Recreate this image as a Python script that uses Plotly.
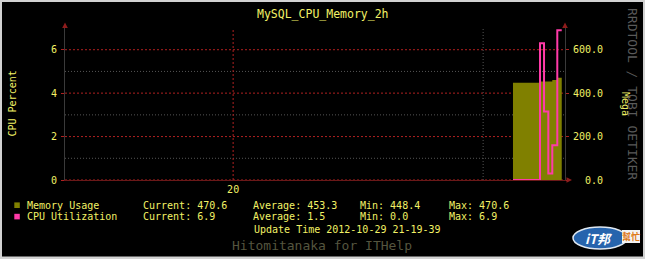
import plotly.graph_objects as go

# ---------------- data ----------------
title_text = "MySQL_CPU_Memory_2h"
x_range = ["2012-10-29 19:19:39", "2012-10-29 21:19:39"]
x_major_ticks = ["2012-10-29 20:00:00"]
x_major_labels = ["20"]
x_minor_ticks = ["2012-10-29 21:00:00"]

# interval start times (step data) and end of last interval
sample_times = ["2012-10-29 21:07:10", "2012-10-29 21:08:05", "2012-10-29 21:09:00",
                "2012-10-29 21:10:00", "2012-10-29 21:11:00", "2012-10-29 21:12:00",
                "2012-10-29 21:12:50", "2012-10-29 21:13:39", "2012-10-29 21:14:37",
                "2012-10-29 21:15:39", "2012-10-29 21:16:36", "2012-10-29 21:17:48"]
last_time = "2012-10-29 21:18:52"
memory_mega = [448.4, 448.4, 448.4, 448.4, 448.4, 448.4, 448.4, 454.0, 454.0, 454.0, 460.0, 470.6]
cpu_percent = [0.0, 0.0, 0.0, 0.0, 0.0, 0.0, 0.0, 6.3, 3.15, 0.3, 1.6, 6.9]

left_ticks = [0, 2, 4, 6]
right_ticks = [0, 200, 400, 600]
right_minor_ticks = [100, 300, 500]

legend_names = ["Memory Usage", "CPU Utilization"]
mem_stats = ["470.6", "453.3", "448.4", "470.6"]
cpu_stats = ["6.9", "1.5", "0.0", "6.9"]
stat_labels = ["Current:", "Average:", "Min:", "Max:"]
update_text = "Update Time 2012-10-29 21-19-39"
footer_text = "Hitomitanaka for ITHelp"
watermark = "RRDTOOL / TOBI OETIKER"

# ---------------- style ----------------
W, H = 645, 259
L, R, T, B = 65, 80, 28, 79
PW, PH = W - L - R, H - T - B
FONT = "DejaVu Sans Mono"
YEL = "#F2F266"
MEM_C = "#808000"
CPU_C = "#FF3AA8"
MAJ = "#B02020"
MIN = "#555555"
DOT_MAJ = "2px,2px"
DOT_MIN = "1px,2px"


def px(x):
    return (x - L) / PW


def py(y):
    return (H - B - y) / PH


fig = go.Figure()

fig.add_trace(go.Scatter(
    x=sample_times + [last_time], y=memory_mega + [memory_mega[-1]],
    mode="lines", line=dict(shape="hv", width=0, color=MEM_C),
    fill="tozeroy", fillcolor=MEM_C, yaxis="y", hoverinfo="skip"))

fig.add_trace(go.Scatter(
    x=sample_times + [last_time], y=cpu_percent + [cpu_percent[-1]],
    mode="lines", line=dict(shape="hv", width=2, color=CPU_C),
    yaxis="y2", hoverinfo="skip"))

fig.update_layout(
    width=W, height=H,
    margin=dict(l=L, r=R, t=T, b=B, pad=0),
    paper_bgcolor="#000000", plot_bgcolor="#000000",
    showlegend=False,
    font=dict(family=FONT, size=10, color=YEL),
    xaxis=dict(
        type="date", range=x_range,
        tickmode="array", tickvals=x_major_ticks, ticktext=x_major_labels,
        showgrid=False,
        showline=True, linecolor="#6a1818", linewidth=1,
        zeroline=False, ticks="", tickfont=dict(family=FONT, size=10, color=YEL),
    ),
    yaxis=dict(
        side="right", range=[0, 700],
        tickmode="array", tickvals=right_ticks, showticklabels=False,
        showgrid=False,
        showline=True, linecolor="#3a3a3a", linewidth=1,
        zeroline=False, ticks="outside", ticklen=3, tickcolor=MAJ,
    ),
    yaxis2=dict(
        side="left", overlaying="y", range=[0, 7],
        tickmode="array", tickvals=left_ticks, ticktext=[str(v) for v in left_ticks],
        showgrid=False, showline=True, linecolor="#3a3a3a", linewidth=1,
        zeroline=False, ticks="outside", ticklen=3, tickcolor=MAJ,
        ticklabelstandoff=2,
        tickfont=dict(family=FONT, size=10, color=YEL),
    ),
)

shapes = []
# grid lines, positioned on the axes' own scales
for v in right_minor_ticks:
    shapes.append(dict(type="line", xref="x domain", yref="y", x0=0, x1=1, y0=v, y1=v,
                       layer="below", line=dict(color=MIN, width=1, dash=DOT_MIN)))
for v in right_ticks:
    shapes.append(dict(type="line", xref="x domain", yref="y", x0=0, x1=1, y0=v, y1=v,
                       layer="below", line=dict(color=MAJ, width=1, dash=DOT_MAJ)))
for t in x_minor_ticks:
    shapes.append(dict(type="line", xref="x", yref="y domain", x0=t, x1=t, y0=0, y1=1,
                       layer="below", line=dict(color=MIN, width=1, dash=DOT_MIN)))
for t in x_major_ticks:
    shapes.append(dict(type="line", xref="x", yref="y domain", x0=t, x1=t, y0=0, y1=1,
                       layer="below", line=dict(color=MAJ, width=1, dash=DOT_MAJ)))

# axis arrows
ARW = "#8E1C1C"
for ax in (65, 565):
    shapes.append(dict(type="path", xref="paper", yref="paper", layer="above",
                       path=f"M {px(ax-2.8)},{py(28)} L {px(ax)},{py(22.5)} L {px(ax+2.8)},{py(28)} Z",
                       fillcolor=ARW, line=dict(width=0)))
shapes.append(dict(type="path", xref="paper", yref="paper", layer="above",
                   path=f"M {px(566.5)},{py(177.2)} L {px(572)},{py(180)} L {px(566.5)},{py(182.8)} Z",
                   fillcolor=ARW, line=dict(width=0)))
# legend squares
for yc, col in ((205.2, MEM_C), (216.6, CPU_C)):
    shapes.append(dict(type="rect", xref="paper", yref="paper", layer="above",
                       x0=px(14.3), x1=px(19.8), y0=py(yc - 2.8), y1=py(yc + 2.8),
                       fillcolor=col, line=dict(width=0)))
# logo
shapes.append(dict(type="circle", xref="paper", yref="paper", layer="above",
                   x0=px(573), x1=px(627), y0=py(249), y1=py(227),
                   fillcolor="#2664ad", line=dict(color="#dfe8f2", width=1.5)))
# outer gray border
BC = "#D2D2D2"
for (x0, x1, y0, y1) in ((0, 645, 0, 2), (0, 645, 256.5, 259), (0, 2, 0, 259), (643, 645, 0, 259)):
    shapes.append(dict(type="rect", xref="paper", yref="paper", layer="above",
                       x0=px(x0), x1=px(x1), y0=py(y0), y1=py(y1),
                       fillcolor=BC, line=dict(width=0)))

fig.update_layout(shapes=shapes)

ann = []


def text(x, y, s, size=10, color=YEL, anchor="left", angle=0):
    ann.append(dict(x=px(x), y=py(y), xref="paper", yref="paper", text=s,
                    showarrow=False, xanchor=anchor, yanchor="middle", textangle=angle,
                    borderpad=0, borderwidth=0,
                    font=dict(family=FONT, size=size, color=color)))


# right axis tick labels, placed on the memory axis scale
for v in right_ticks:
    ann.append(dict(x=px(602.5), y=v, xref="paper", yref="y", text=f"{v:.1f}",
                    showarrow=False, xanchor="right", yanchor="middle",
                    borderpad=0, borderwidth=0,
                    font=dict(family=FONT, size=10, color=YEL)))

text(322.5, 14, title_text, size=11.5, anchor="center")
text(11.5, 104, "CPU Percent", anchor="center", angle=-90)
text(626, 104, "Mega", anchor="center", angle=90)
text(632.5, 93.5, watermark, size=13, color="#5a5a5a", anchor="center", angle=90)

stat_x = [142.8, 252.7, 359.5, 448.6]
for yc, name, stats in ((205.2, legend_names[0], mem_stats), (216.6, legend_names[1], cpu_stats)):
    text(26.7, yc, name)
    for lx, lab, val in zip(stat_x, stat_labels, stats):
        text(lx, yc, f"{lab} {val}")

text(254.3, 229, update_text)
text(322, 245, footer_text, size=13, color="#55553f", anchor="center")

# logo text
ann.append(dict(x=px(598), y=py(238.5), xref="paper", yref="paper", text="<b><i>iT邦</i></b>",
                showarrow=False, xanchor="center", yanchor="middle", borderpad=0, borderwidth=0,
                font=dict(family="Noto Sans CJK TC", size=13, color="#ffffff")))
ann.append(dict(x=px(631), y=py(236), xref="paper", yref="paper", text="<b>幫忙</b>",
                showarrow=False, xanchor="center", yanchor="middle", borderpad=0, borderwidth=0,
                bgcolor="#f3f3f3",
                font=dict(family="Noto Sans CJK TC", size=9, color="#e07a18")))

fig.update_layout(annotations=ann)

fig.write_html("out.html")
